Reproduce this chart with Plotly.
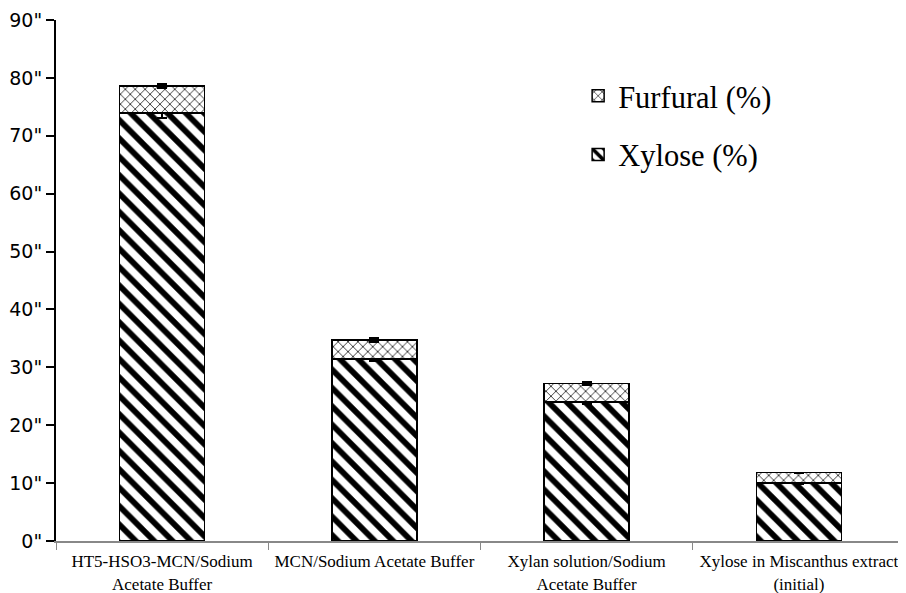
import plotly.graph_objects as go

categories = ["HT5-HSO3-MCN/Sodium<br>Acetate Buffer", "MCN/Sodium Acetate Buffer",
              "Xylan solution/Sodium<br>Acetate Buffer", "Xylose in Miscanthus extract<br>(initial)"]
xylose = [73.9, 31.4, 24.0, 10.0]
xylose_err = [0.8, 0.3, 0.3, 0.2]
furfural = [4.7, 3.3, 3.2, 1.8]
furfural_err = [0.3, 0.3, 0.3, 0.0]
ytick_vals = [0, 10, 20, 30, 40, 50, 60, 70, 80, 90]
ytick_text = ['0"', '10"', '20"', '30"', '40"', '50"', '60"', '70"', '80"', '90"']

serif = "Liberation Serif, Times New Roman, serif"

fig = go.Figure()
fig.add_trace(go.Bar(
    x=categories, y=xylose, name="Xylose (%)", legendgroup="b", legendrank=2,
    marker=dict(color="white", line=dict(color="black", width=1.5),
                pattern=dict(shape="\\", fgcolor="black", bgcolor="white", fgopacity=1,
                             size=13, solidity=0.45)),
    error_y=dict(type="data", array=xylose_err, color="black", thickness=2, width=5),
    width=0.4,
))
fig.add_trace(go.Bar(
    x=categories, y=furfural, name="Furfural (%)", legendgroup="a", legendrank=1,
    marker=dict(color="white", line=dict(color="black", width=1.5),
                pattern=dict(shape="x", fgcolor="black", bgcolor="white", fgopacity=1,
                             size=7, solidity=0.2)),
    error_y=dict(type="data", array=furfural_err, color="black", thickness=2, width=5),
    width=0.4,
))

fig.update_layout(
    barmode="stack",
    width=906, height=593,
    margin=dict(l=48, r=9, t=12, b=60, autoexpand=False),
    plot_bgcolor="white", paper_bgcolor="white",
    showlegend=True,
    legend=dict(x=0.615, y=0.905, xanchor="left", yanchor="top", traceorder="grouped",
                font=dict(family=serif, size=30.5, color="black"),
                tracegroupgap=16, bgcolor="rgba(0,0,0,0)"),
    font=dict(color="black"),
)
fig.update_yaxes(range=[0, 90], tickvals=ytick_vals, ticktext=ytick_text, automargin=False,
                 showline=True, linecolor="black", linewidth=2, ticks="outside",
                 ticklen=8, tickwidth=1.5, tickcolor="black", showgrid=False, zeroline=False,
                 tickfont=dict(family="DejaVu Sans", size=19, color="black"))
fig.update_xaxes(showline=True, linecolor="#888888", linewidth=2, ticks="outside", automargin=False,
                 tickson="boundaries", ticklen=7, tickcolor="#888888", showgrid=False,
                 tickangle=0, ticklabelstandoff=4,
                 tickfont=dict(family=serif, size=17, color="black"))

fig.write_html("out.html")
